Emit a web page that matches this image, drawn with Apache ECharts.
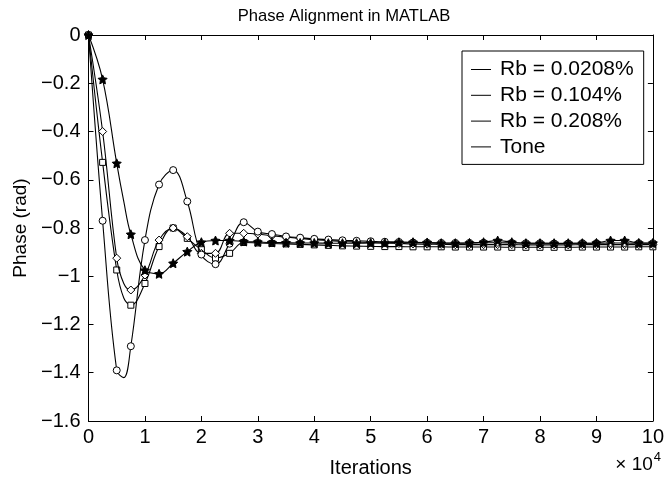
<!DOCTYPE html>
<html><head><meta charset="utf-8">
<script src="https://cdn.jsdelivr.net/npm/echarts@6/dist/echarts.min.js"></script>
<style>html,body{margin:0;padding:0;background:#fff}#c{width:667px;height:484px}</style>
</head><body><div id="c"></div>
<script>
const FONT = 'Liberation Sans, Arial, Helvetica, sans-serif';
const iterations = [0, 2500, 5000, 6250, 7500, 10000, 12500, 15000, 17500, 20000, 22500, 25000, 27500, 30000, 32500, 35000, 37500, 40000, 42500, 45000, 47500, 50000, 52500, 55000, 57500, 60000, 62500, 65000, 67500, 70000, 72500, 75000, 77500, 80000, 82500, 85000, 87500, 90000, 92500, 95000, 97500, 100000];
const markerStep = 2500;
const seriesNames = ['Rb = 0.0208%', 'Rb = 0.104%', 'Rb = 0.208%', 'Tone'];
// star markers
const phaseRb0208 = [0, -0.184, -0.532, -0.69, -0.826, -0.975, -0.99, -0.946, -0.898, -0.859, -0.852, -0.852, -0.856,
  -0.858, -0.86, -0.861, -0.862, -0.862, -0.863, -0.863, -0.863, -0.862, -0.862, -0.859, -0.859, -0.86, -0.863, -0.863, -0.862, -0.859, -0.852, -0.859, -0.863, -0.863, -0.863, -0.863, -0.863, -0.862, -0.852, -0.852, -0.862, -0.862];
// diamond markers
const phaseRb104 = [0, -0.40, -0.925, -1.03, -1.057, -0.995, -0.85, -0.80, -0.836, -0.905, -0.905, -0.822, -0.822,
  -0.825, -0.832, -0.838, -0.843, -0.848, -0.852, -0.856, -0.858, -0.86, -0.862, -0.864, -0.866, -0.867, -0.868, -0.869, -0.869, -0.869, -0.869, -0.869, -0.87, -0.87, -0.87, -0.87, -0.869, -0.869, -0.869, -0.869, -0.869, -0.869];
// square markers
const phaseRb208 = [0, -0.528, -0.974, -1.09, -1.12, -1.03, -0.877, -0.80, -0.843, -0.89, -0.925, -0.905, -0.86,
  -0.862, -0.864, -0.866, -0.868, -0.87, -0.872, -0.874, -0.875, -0.876, -0.877, -0.877, -0.878, -0.878, -0.878, -0.879, -0.879, -0.879, -0.879, -0.88, -0.88, -0.88, -0.88, -0.88, -0.879, -0.879, -0.879, -0.879, -0.878, -0.878];
// circle markers
const phaseTone = [0, -0.77, -1.39, -1.42, -1.29, -0.85, -0.62, -0.56, -0.69, -0.91, -0.95, -0.865, -0.776,
  -0.815, -0.825, -0.835, -0.84, -0.845, -0.848, -0.851, -0.853, -0.855, -0.857, -0.858, -0.86, -0.861, -0.862, -0.862, -0.862, -0.861, -0.861, -0.862, -0.863, -0.863, -0.864, -0.864, -0.863, -0.863, -0.862, -0.862, -0.863, -0.863];

const STAR = 'path://M0,-10L2.9,-4L9.5,-3.1L4.8,1.5L5.9,8.1L0,5L-5.9,8.1L-4.8,1.5L-9.5,-3.1L-2.9,-4Z';
function pairs(ys){ return iterations.map((x,i)=>[x, ys[i]]); }
function mk(name, ys, symbol, size, filled, z){
  return {
    name, type:'line', data:pairs(ys), smooth:0.4,
    symbol:(v)=> (v[0] % markerStep === 0 ? symbol : 'none'),
    symbolSize:size, showAllSymbol:true,
    lineStyle:{color:'#000', width:1.1},
    itemStyle:{color: filled ? '#000' : '#fff', borderColor:'#000', borderWidth:1},
    emphasis:{disabled:true}, z:z
  };
}
const minus = s => s.replace('-', '\u2212');
const axisCommon = {
  axisLine:{show:true, onZero:false, lineStyle:{color:'#000', width:1}},
  axisTick:{show:true, inside:true, length:5, lineStyle:{color:'#000'}},
  splitLine:{show:false}
};
const chart = echarts.init(document.getElementById('c'), null, {renderer:'canvas'});
chart.setOption({
  animation:false,
  backgroundColor:'#fff',
  title:{text:'Phase Alignment in MATLAB', left:339, top:3, textAlign:'center',
    textStyle:{fontSize:16.6, fontWeight:'normal', color:'#000', fontFamily:FONT}},
  grid:{left:88.5, right:10.5, top:35, bottom:63, containLabel:false},
  legend:{
    data:seriesNames, orient:'vertical', left:462, top:51, icon:'rect', itemWidth:20, itemHeight:1,
    itemGap:4.8, padding:[8,10,7,9], borderColor:'#000', borderWidth:1, backgroundColor:'#fff',
    itemStyle:{color:'#000', borderWidth:0},
    textStyle:{fontSize:21, color:'#000', fontFamily:FONT, padding:[0,0,0,4]}
  },
  xAxis:[
    Object.assign({type:'value', min:0, max:100000, interval:10000, position:'bottom',
      name:'Iterations', nameLocation:'middle', nameGap:37,
      nameTextStyle:{fontSize:20, color:'#000', fontFamily:FONT},
      axisLabel:{formatter:v=>String(v/10000), color:'#000', fontSize:20, margin:6, fontFamily:FONT}}, axisCommon),
    Object.assign({type:'value', min:0, max:100000, interval:10000, position:'top', axisLabel:{show:false}}, axisCommon)
  ],
  yAxis:[
    Object.assign({type:'value', min:-1.6, max:0, interval:0.2, position:'left',
      name:'Phase (rad)', nameLocation:'middle', nameGap:58,
      nameTextStyle:{fontSize:19, color:'#000', fontFamily:FONT},
      axisLabel:{formatter:v=>minus(String(Math.round(v*10)/10)), color:'#000', fontSize:20, margin:8, fontFamily:FONT}}, axisCommon),
    Object.assign({type:'value', min:-1.6, max:0, interval:0.2, position:'right', axisLabel:{show:false}}, axisCommon)
  ],
  graphic:[{
    type:'text', right:6, top:451,
    style:{text:'{a|\u00d7 10}{b|4}', rich:{
      a:{fontSize:19, fontFamily:FONT, fill:'#000', verticalAlign:'bottom'},
      b:{fontSize:13, fontFamily:FONT, fill:'#000', verticalAlign:'top', padding:[0,0,10,1]}}}
  }],
  series:[
    mk(seriesNames[0], phaseRb0208, STAR, 9, true, 5),
    mk(seriesNames[1], phaseRb104, 'diamond', 8, false, 3),
    mk(seriesNames[2], phaseRb208, 'rect', 6, false, 2),
    mk(seriesNames[3], phaseTone, 'circle', 7, false, 4)
  ]
});
</script></body></html>
